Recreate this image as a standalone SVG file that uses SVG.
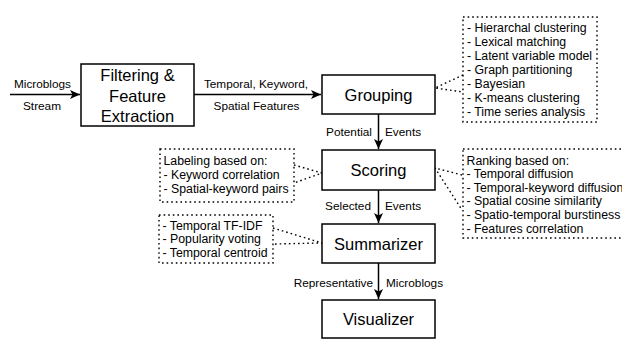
<svg xmlns="http://www.w3.org/2000/svg" width="622" height="339" viewBox="0 0 622 339">
<style>
.box{fill:#fff;stroke:#000;stroke-width:1.5}
.dbox{fill:none;stroke:#000;stroke-width:1.4;stroke-dasharray:1.6 3}
.dline{fill:none;stroke:#000;stroke-width:1.4;stroke-dasharray:1.6 3}
.arr{fill:none;stroke:#000;stroke-width:1.5}
.big{font-family:"Liberation Sans",Arial,sans-serif;font-size:16.5px;text-anchor:middle;fill:#000}
.lbl{font-family:"Liberation Sans",Arial,sans-serif;font-size:11.8px;fill:#000}
.lst{font-family:"Liberation Sans",Arial,sans-serif;font-size:12.3px;fill:#000}
</style>
<defs>
<marker id="ah" markerUnits="userSpaceOnUse" markerWidth="11" markerHeight="9" refX="10" refY="4.5" orient="auto">
<path d="M0,0 L10,4.5 L0,9 L2.5,4.5 z" fill="#000"/>
</marker>
</defs>
<g id="connectors">
<line class="arr" x1="10" y1="94.5" x2="80" y2="94.5" marker-end="url(#ah)"/>
<line class="arr" x1="194" y1="94.5" x2="321" y2="94.5" marker-end="url(#ah)"/>
<line class="arr" x1="378.5" y1="114" x2="378.5" y2="149" marker-end="url(#ah)"/>
<line class="arr" x1="378.5" y1="190" x2="378.5" y2="223" marker-end="url(#ah)"/>
<line class="arr" x1="378.5" y1="263" x2="378.5" y2="299" marker-end="url(#ah)"/>
<polyline class="dline" points="463,75 435,88 463,92"/>
<polyline class="dline" points="294,165 322,173 294,183"/>
<polyline class="dline" points="462,175 435,168 462,210"/>
<polyline class="dline" points="273,228 322,243 273,244"/>
<text class="lbl" x="42.5" y="88" text-anchor="middle">Microblogs</text>
<text class="lbl" x="42" y="110" text-anchor="middle">Stream</text>
<text class="lbl" x="256" y="88" text-anchor="middle">Temporal, Keyword,</text>
<text class="lbl" x="256.5" y="110" text-anchor="middle">Spatial Features</text>
<text class="lbl" x="372" y="136" text-anchor="end">Potential</text>
<text class="lbl" x="385" y="136">Events</text>
<text class="lbl" x="371" y="210" text-anchor="end">Selected</text>
<text class="lbl" x="385" y="210">Events</text>
<text class="lbl" x="373" y="287" text-anchor="end">Representative</text>
<text class="lbl" x="386" y="287">Microblogs</text>
</g>
<g id="filtering">
<rect class="box" x="81" y="64" width="113" height="62"/>
<text class="big" x="137.5" y="81">Filtering &amp;</text>
<text class="big" x="137.5" y="102">Feature</text>
<text class="big" x="137.5" y="122">Extraction</text>
</g>
<g id="grouping">
<rect class="box" x="322" y="75" width="113" height="39"/>
<text class="big" x="378.5" y="100.5">Grouping</text>
</g>
<g id="scoring">
<rect class="box" x="322" y="150" width="113" height="40"/>
<text class="big" x="378.5" y="176">Scoring</text>
</g>
<g id="summarizer">
<rect class="box" x="322" y="224" width="113" height="39"/>
<text class="big" x="378.5" y="249.5">Summarizer</text>
</g>
<g id="visualizer">
<rect class="box" x="322" y="300" width="113" height="38"/>
<text class="big" x="378.5" y="325">Visualizer</text>
</g>
<g id="grouping-methods">
<rect class="dbox" x="463" y="17" width="134" height="105"/>
<text class="lst" x="467" y="32.4">- Hierarchal clustering</text>
<text class="lst" x="467" y="46.3">- Lexical matching</text>
<text class="lst" x="467" y="60.2">- Latent variable model</text>
<text class="lst" x="467" y="74.1">- Graph partitioning</text>
<text class="lst" x="467" y="88">- Bayesian</text>
<text class="lst" x="467" y="101.9">- K-means clustering</text>
<text class="lst" x="467" y="115.8">- Time series analysis</text>
</g>
<g id="labeling">
<rect class="dbox" x="160" y="149" width="134" height="53"/>
<text class="lst" x="163.5" y="165">Labeling based on:</text>
<text class="lst" x="163.5" y="179">- Keyword correlation</text>
<text class="lst" x="163.5" y="193">- Spatial-keyword pairs</text>
</g>
<g id="ranking">
<rect class="dbox" x="463" y="149" width="170" height="89"/>
<text class="lst" x="466.5" y="164.5">Ranking based on:</text>
<text class="lst" x="466.5" y="178.1">- Temporal diffusion</text>
<text class="lst" x="466.5" y="191.7">- Temporal-keyword diffusion</text>
<text class="lst" x="466.5" y="205.3">- Spatial cosine similarity</text>
<text class="lst" x="466.5" y="218.9">- Spatio-temporal burstiness</text>
<text class="lst" x="466.5" y="232.5">- Features correlation</text>
</g>
<g id="summarizer-methods">
<rect class="dbox" x="159" y="215" width="114" height="48"/>
<text class="lst" x="162.5" y="229.5">- Temporal TF-IDF</text>
<text class="lst" x="162.5" y="243">- Popularity voting</text>
<text class="lst" x="162.5" y="256.5">- Temporal centroid</text>
</g>
</svg>
